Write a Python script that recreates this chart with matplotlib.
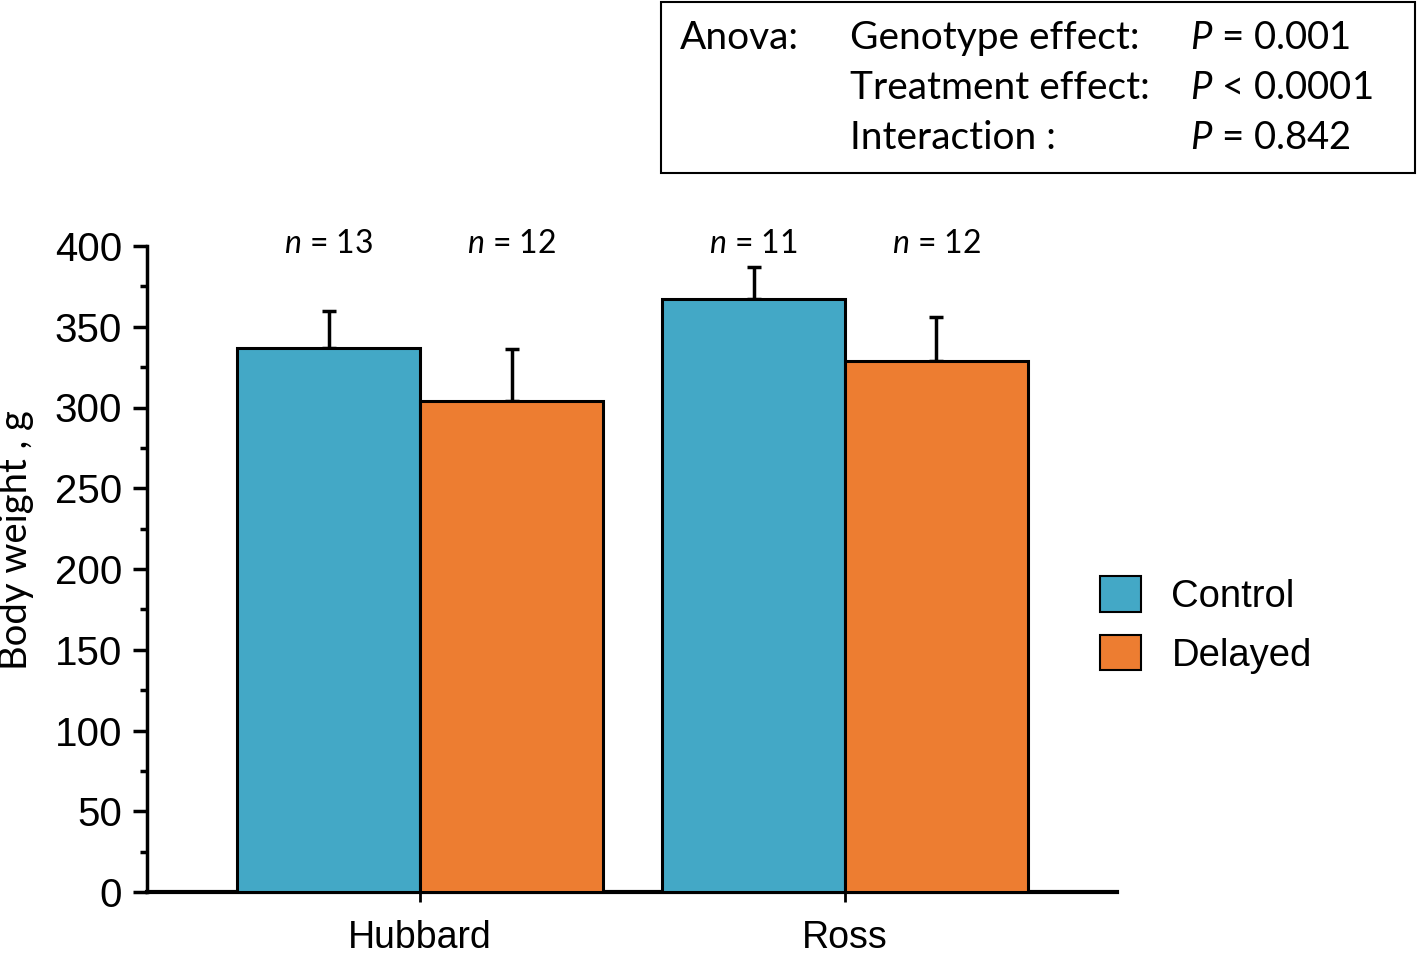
import numpy as np
import matplotlib.pyplot as plt
from matplotlib.patches import Patch
from matplotlib.ticker import MultipleLocator

# data
genotypes = ["Hubbard", "Ross"]
control_mean = [337, 367]
control_err = [23, 20]
delayed_mean = [304, 329]
delayed_err = [32, 27]
control_n = [13, 11]
delayed_n = [12, 12]

blue = "#43a8c6"
orange = "#ed7d31"
arial = "Liberation Sans"
calibri = "Lato"

plt.rcParams["mathtext.fontset"] = "custom"
plt.rcParams["mathtext.it"] = "Lato:italic"
plt.rcParams["mathtext.rm"] = "Lato"

fig = plt.figure(figsize=(14.18, 9.57), dpi=100)
ax = fig.add_axes([147 / 1418, 1 - 892 / 957, (1117 - 147) / 1418, (892 - 246) / 957])

x = np.arange(len(genotypes))
w = 0.43
ax.bar(x - w / 2, control_mean, w, color=blue, edgecolor="black", linewidth=2.2, zorder=3)
ax.bar(x + w / 2, delayed_mean, w, color=orange, edgecolor="black", linewidth=2.2, zorder=3)
ax.errorbar(x - w / 2, control_mean, yerr=[np.zeros(2), control_err], fmt="none",
            ecolor="black", elinewidth=2.5, capsize=5, capthick=2.5, zorder=2)
ax.errorbar(x + w / 2, delayed_mean, yerr=[np.zeros(2), delayed_err], fmt="none",
            ecolor="black", elinewidth=2.5, capsize=5, capthick=2.5, zorder=2)

# n labels above bars
for i in range(len(genotypes)):
    ax.text(x[i] - w / 2, 401, f"$\\it{{n}}$ = {control_n[i]}", ha="center", va="center",
            fontsize=23, family=calibri, clip_on=False)
    ax.text(x[i] + w / 2, 401, f"$\\it{{n}}$ = {delayed_n[i]}", ha="center", va="center",
            fontsize=23, family=calibri, clip_on=False)

ax.set_xlim(-0.643, 1.64)
ax.set_ylim(0, 400)
ax.yaxis.set_major_locator(MultipleLocator(50))
ax.yaxis.set_minor_locator(MultipleLocator(25))
ax.set_xticks(x)
ax.set_xticklabels(genotypes, family=arial, fontsize=27)
ax.tick_params(axis="x", direction="inout", length=14, width=2, pad=13)
ax.tick_params(axis="y", which="major", direction="out", length=10, width=2.5, pad=8,
               labelsize=29)
ax.tick_params(axis="y", which="minor", direction="out", length=5, width=2.5)
for lab in ax.get_yticklabels():
    lab.set_family(arial)
for s in ["top", "right"]:
    ax.spines[s].set_visible(False)
ax.spines["left"].set_linewidth(2.5)
ax.spines["bottom"].set_linewidth(3)
ax.set_ylabel("Body weight , g", family=calibri, fontsize=27.5)
ax.yaxis.set_label_coords(-0.117, 0.545)

handles = [Patch(facecolor=blue, edgecolor="black", linewidth=1.5),
           Patch(facecolor=orange, edgecolor="black", linewidth=1.5)]
fig.legend(handles, ["Control", "Delayed"], loc="center left",
           bbox_to_anchor=(1100 / 1418, 1 - 625 / 957), frameon=False,
           prop={"family": arial, "size": 27.5}, handlelength=1.07, handleheight=1.07,
           handletextpad=0.8, labelspacing=0.5, borderpad=0, borderaxespad=0)

# anova box
box = plt.Rectangle((661 / 1418, 1 - 173 / 957), (1415 - 661) / 1418, 171 / 957,
                    transform=fig.transFigure, fill=False, edgecolor="black", linewidth=1.5)
fig.patches.append(box)
rows = [("Anova:", "Genotype effect:", "= 0.001"),
        ("", "Treatment effect:", "< 0.0001"),
        ("", "Interaction :", "= 0.842")]
for j, (a, b, c) in enumerate(rows):
    yy = 1 - (38 + 50 * j) / 957
    fig.text(680 / 1418, yy, a, family=calibri, fontsize=28, va="center")
    fig.text(850 / 1418, yy, b, family=calibri, fontsize=28, va="center")
    fig.text(1190 / 1418, yy, "$\\it{P}$ " + c, family=calibri, fontsize=27.5, va="center")

fig.savefig("out.png", dpi=100)
